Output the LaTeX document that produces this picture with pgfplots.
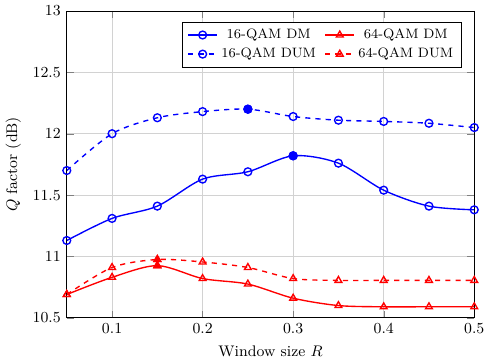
\documentclass[border=0pt]{standalone}
\usepackage{pgfplots}
\pgfplotsset{compat=1.18}
\begin{document}
\begin{tikzpicture}
\begin{axis}[
  scale only axis,
  width=239pt, height=180pt,
  xmin=0.05, xmax=0.5, ymin=10.5, ymax=13,
  xtick={0.1,0.2,0.3,0.4,0.5},
  ytick={10.5,11,11.5,12,12.5,13},
  yticklabels={10.5,11,11.5,12,12.5,13},
  grid=major,
  major grid style={gray!35},
  xlabel={Window size $R$},
  ylabel={$Q$ factor (dB)},
  legend columns=2,
  legend style={at={(0.97,0.965)}, anchor=north east, font=\footnotesize, /tikz/every even column/.append style={column sep=3pt}},
  tick label style={font=\small},
  label style={font=\small},
  every axis plot/.append style={thick},
  mark size=2.3pt,
]
\addplot[blue, smooth, mark=o, mark options={solid, fill=white}] coordinates {
(0.05,11.13) (0.1,11.31) (0.15,11.41) (0.2,11.63) (0.25,11.69) (0.3,11.82) (0.35,11.76) (0.4,11.54) (0.45,11.41) (0.5,11.38)};
\addlegendentry{16-QAM DM}
\addplot[red, smooth, mark=triangle, mark options={solid, fill=white}] coordinates {
(0.05,10.69) (0.1,10.83) (0.15,10.925) (0.2,10.82) (0.25,10.775) (0.3,10.66) (0.35,10.60) (0.4,10.59) (0.45,10.59) (0.5,10.59)};
\addlegendentry{64-QAM DM}
\addplot[blue, dashed, smooth, mark=o, mark options={solid, fill=white}] coordinates {
(0.05,11.70) (0.1,12.00) (0.15,12.13) (0.2,12.18) (0.25,12.20) (0.3,12.14) (0.35,12.11) (0.4,12.10) (0.45,12.085) (0.5,12.05)};
\addlegendentry{16-QAM DUM}
\addplot[red, dashed, smooth, mark=triangle, mark options={solid, fill=white}] coordinates {
(0.05,10.69) (0.1,10.91) (0.15,10.975) (0.2,10.955) (0.25,10.91) (0.3,10.82) (0.35,10.805) (0.4,10.805) (0.45,10.805) (0.5,10.805)};
\addlegendentry{64-QAM DUM}
\addplot[blue, only marks, mark=*, forget plot] coordinates {(0.3,11.82) (0.25,12.20)};
\addplot[red, only marks, mark=triangle*, forget plot] coordinates {(0.15,10.925) (0.15,10.975)};
\end{axis}
\end{tikzpicture}
\end{document}
